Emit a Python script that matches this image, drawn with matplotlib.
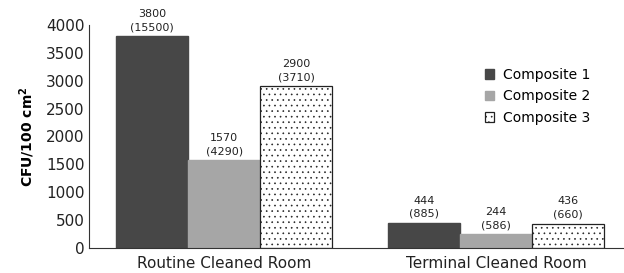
import numpy as np
import matplotlib
matplotlib.use("Agg")
import matplotlib.pyplot as plt

# Dati
rooms = ["Routine Cleaned Room", "Terminal Cleaned Room"]
series_names = ["Composite 1", "Composite 2", "Composite 3"]
composite1 = [3800, 444]
composite2 = [1570, 244]
composite3 = [2900, 436]
composite1_max = [15500, 885]
composite2_max = [4290, 586]
composite3_max = [3710, 660]

values = [composite1, composite2, composite3]
maxima = [composite1_max, composite2_max, composite3_max]

plt.rcParams["hatch.linewidth"] = 0.45

fig = plt.figure(figsize=(6.24, 2.73), dpi=100)
ax = fig.add_axes([0.143, 0.092, 0.857, 0.816])

x = np.arange(len(rooms))
width = 0.265
styles = [
    dict(color="#474747", edgecolor="#474747"),
    dict(color="#a6a6a6", edgecolor="#a6a6a6"),
    dict(color="white", edgecolor="#222222", hatch="...", linewidth=0.9),
]

for i in range(3):
    pos = x + (i - 1) * width
    ax.bar(pos, values[i], width, label=series_names[i], **styles[i])
    for p, v, m in zip(pos, values[i], maxima[i]):
        ax.annotate(f"{v}\n({m})", (p, v), xytext=(0, 3), textcoords="offset points",
                    ha="center", va="bottom", fontsize=8, color="#222222",
                    linespacing=1.4, annotation_clip=False)

ax.set_xlim(-0.496, 1.47)
ax.set_ylim(0, 4000)
ax.set_yticks(range(0, 4001, 500))
ax.set_xticks(x)
ax.set_xticklabels(rooms, fontsize=11, color="#222222")
ax.tick_params(axis="y", labelsize=11, colors="#222222", length=0)
ax.tick_params(axis="x", length=0, pad=6)
ax.set_ylabel("CFU/100 cm$^{\\mathbf{2}}$", fontsize=10, fontweight="bold", labelpad=6)

for s in ["top", "right"]:
    ax.spines[s].set_visible(False)
ax.spines["left"].set_color("#333333")
ax.spines["bottom"].set_color("#333333")

ax.legend(loc="upper left", bbox_to_anchor=(0.716, 0.865), frameon=False, fontsize=10,
          handlelength=0.7, handleheight=0.7, handletextpad=0.6, labelspacing=0.55)

plt.savefig("out.png", dpi=100)
